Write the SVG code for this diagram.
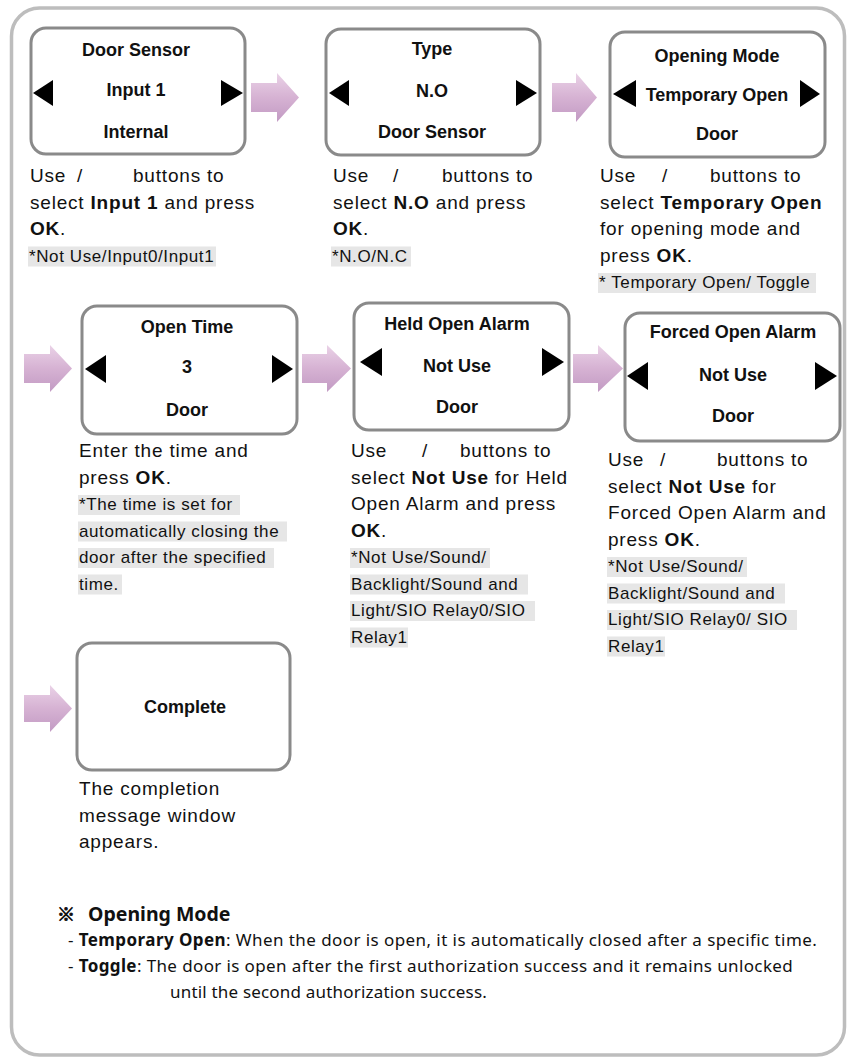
<svg xmlns="http://www.w3.org/2000/svg" width="847" height="1059" viewBox="0 0 847 1059">
<defs>
<linearGradient id="ag" x1="0" y1="0" x2="0" y2="1">
<stop offset="0" stop-color="#ead2e7"/>
<stop offset="0.5" stop-color="#d6b2d3"/>
<stop offset="1" stop-color="#c29ac3"/>
</linearGradient>
<style>
.frame{fill:#fff;stroke:#bdbdbd;stroke-width:3.5}
.box{fill:#fff;stroke:#8a8a8a;stroke-width:3}
.bt{font-family:"Liberation Sans",Arial,sans-serif;font-weight:bold;font-size:18px;text-anchor:middle;fill:#111}
.tri{fill:#000}
.arr{fill:url(#ag)}
.d{font-family:"Liberation Sans",Arial,sans-serif;font-size:19px;letter-spacing:0.8px;fill:#111}
.n{font-family:"Liberation Sans",Arial,sans-serif;font-size:17px;letter-spacing:0.6px;fill:#111}
.hl{fill:#e6e6e6}
.b{font-weight:bold}
.f{font-family:"Noto Sans","Liberation Sans","Noto Sans CJK KR",sans-serif;font-size:17px;letter-spacing:0.2px;fill:#111}
.fh{font-family:"Noto Sans","Noto Sans CJK KR",sans-serif;font-size:19.5px;font-weight:bold;fill:#111}
.fs{font-family:"Noto Sans CJK KR","Noto Sans",sans-serif;font-size:18px;font-weight:bold;fill:#111;stroke:#111;stroke-width:0.8}
</style>
</defs>
<rect class="frame" x="11.5" y="8" width="833" height="1047" rx="28"/>

<g id="connectors">
<path class="arr" d="M251,83 H277 V73 L299,97.5 L277,122 V112 H251 Z"/>
<path class="arr" d="M552,83 H576 V73 L597,97.5 L576,122 V112 H552 Z"/>
<path class="arr" d="M24,354 H50 V345 L72,368.5 L50,392 V383 H24 Z"/>
<path class="arr" d="M302,354 H327 V345 L351,368.5 L327,392 V383 H302 Z"/>
<path class="arr" d="M573,354 H598 V345 L623,368.5 L598,392 V383 H573 Z"/>
<path class="arr" d="M24,695 H50 V685 L72,708.5 L50,732 V722 H24 Z"/>
</g>

<g id="node-door-sensor">
<rect class="box" x="31" y="28" width="214" height="126" rx="15"/>
<text class="bt" x="136" y="56">Door Sensor</text>
<text class="bt" x="136" y="96">Input 1</text>
<text class="bt" x="136" y="138">Internal</text>
<polygon class="tri" points="33,93 53,80 53,106"/>
<polygon class="tri" points="243,93 221,80 221,106"/>
<text class="d" x="30" y="182">Use</text>
<text class="d" x="77" y="182">/</text>
<text class="d" x="133" y="182">buttons to</text>
<text class="d" x="30" y="208.5">select <tspan class="b">Input 1</tspan> and press</text>
<text class="d" x="30" y="235"><tspan class="b">OK</tspan>.</text>
<rect class="hl" x="28" y="246.5" width="188" height="20"/>
<text class="n" x="29" y="261.5">*Not Use/Input0/Input1</text>
</g>

<g id="node-type">
<rect class="box" x="326" y="29" width="214" height="126" rx="15"/>
<text class="bt" x="432" y="55">Type</text>
<text class="bt" x="432" y="97">N.O</text>
<text class="bt" x="432" y="138">Door Sensor</text>
<polygon class="tri" points="329,93 349,80 349,106"/>
<polygon class="tri" points="537,93 516,80 516,106"/>
<text class="d" x="333" y="182">Use</text>
<text class="d" x="393" y="182">/</text>
<text class="d" x="442" y="182">buttons to</text>
<text class="d" x="333" y="208.5">select <tspan class="b">N.O</tspan> and press</text>
<text class="d" x="333" y="235"><tspan class="b">OK</tspan>.</text>
<rect class="hl" x="331" y="246.5" width="80" height="20"/>
<text class="n" x="332" y="261.5">*N.O/N.C</text>
</g>

<g id="node-opening-mode">
<rect class="box" x="610" y="32" width="215" height="125" rx="15"/>
<text class="bt" x="717" y="62">Opening Mode</text>
<text class="bt" x="717" y="101">Temporary Open</text>
<text class="bt" x="717" y="140">Door</text>
<polygon class="tri" points="613,94 636,80 636,107"/>
<polygon class="tri" points="820,94 800,80 800,107"/>
<text class="d" x="600" y="182">Use</text>
<text class="d" x="662" y="182">/</text>
<text class="d" x="710" y="182">buttons to</text>
<text class="d" x="600" y="208.5">select <tspan class="b">Temporary Open</tspan></text>
<text class="d" x="600" y="235">for opening mode and</text>
<text class="d" x="600" y="261.5">press <tspan class="b">OK</tspan>.</text>
<rect class="hl" x="598" y="273" width="218" height="20"/>
<text class="n" x="599" y="288">* Temporary Open/ Toggle</text>
</g>

<g id="node-open-time">
<rect class="box" x="82" y="306" width="215" height="128" rx="15"/>
<text class="bt" x="187" y="333">Open Time</text>
<text class="bt" x="187" y="373">3</text>
<text class="bt" x="187" y="416">Door</text>
<polygon class="tri" points="85,369 106,355 106,383"/>
<polygon class="tri" points="293,369 272,355 272,383"/>
<text class="d" x="79" y="457">Enter the time and</text>
<text class="d" x="79" y="483.5">press <tspan class="b">OK</tspan>.</text>
<rect class="hl" x="78" y="495" width="162" height="20"/>
<text class="n" x="79" y="510">*The time is set for</text>
<rect class="hl" x="78" y="521.5" width="209" height="20"/>
<text class="n" x="79" y="536.5">automatically closing the</text>
<rect class="hl" x="78" y="548" width="196" height="20"/>
<text class="n" x="79" y="563">door after the specified</text>
<rect class="hl" x="78" y="574.5" width="44" height="20"/>
<text class="n" x="79" y="589.5">time.</text>
</g>

<g id="node-held-open-alarm">
<rect class="box" x="354" y="303" width="215" height="127" rx="15"/>
<text class="bt" x="457" y="330">Held Open Alarm</text>
<text class="bt" x="457" y="372">Not Use</text>
<text class="bt" x="457" y="413">Door</text>
<polygon class="tri" points="360,362 382,348 382,376"/>
<polygon class="tri" points="564,362 542,348 542,376"/>
<text class="d" x="351" y="457">Use</text>
<text class="d" x="422" y="457">/</text>
<text class="d" x="460" y="457">buttons to</text>
<text class="d" x="351" y="483.5">select <tspan class="b">Not Use</tspan> for Held</text>
<text class="d" x="351" y="510">Open Alarm and press</text>
<text class="d" x="351" y="536.5"><tspan class="b">OK</tspan>.</text>
<rect class="hl" x="350" y="548" width="140" height="20"/>
<text class="n" x="351" y="563">*Not Use/Sound/</text>
<rect class="hl" x="350" y="574.5" width="178" height="20"/>
<text class="n" x="351" y="589.5">Backlight/Sound and</text>
<rect class="hl" x="350" y="601" width="185" height="20"/>
<text class="n" x="351" y="616">Light/SIO Relay0/SIO</text>
<rect class="hl" x="350" y="627.5" width="58" height="20"/>
<text class="n" x="351" y="642.5">Relay1</text>
</g>

<g id="node-forced-open-alarm">
<rect class="box" x="625" y="313" width="215" height="128" rx="15"/>
<text class="bt" x="733" y="338">Forced Open Alarm</text>
<text class="bt" x="733" y="381">Not Use</text>
<text class="bt" x="733" y="422">Door</text>
<polygon class="tri" points="627,376 648,362 648,390"/>
<polygon class="tri" points="837,376 815,362 815,390"/>
<text class="d" x="608" y="466">Use</text>
<text class="d" x="660" y="466">/</text>
<text class="d" x="717" y="466">buttons to</text>
<text class="d" x="608" y="492.5">select <tspan class="b">Not Use</tspan> for</text>
<text class="d" x="608" y="519">Forced Open Alarm and</text>
<text class="d" x="608" y="545.5">press <tspan class="b">OK</tspan>.</text>
<rect class="hl" x="607" y="557" width="140" height="20"/>
<text class="n" x="608" y="572">*Not Use/Sound/</text>
<rect class="hl" x="607" y="583.5" width="178" height="20"/>
<text class="n" x="608" y="598.5">Backlight/Sound and</text>
<rect class="hl" x="607" y="610" width="190" height="20"/>
<text class="n" x="608" y="625">Light/SIO Relay0/ SIO</text>
<rect class="hl" x="607" y="636.5" width="58" height="20"/>
<text class="n" x="608" y="651.5">Relay1</text>
</g>

<g id="node-complete">
<rect class="box" x="77" y="643" width="213" height="127" rx="15"/>
<text class="bt" x="185" y="713">Complete</text>
<text class="d" x="79" y="795">The completion</text>
<text class="d" x="79" y="821.5">message window</text>
<text class="d" x="79" y="848">appears.</text>
</g>

<g id="opening-mode-note">
<text class="fs" x="57" y="921">※</text>
<text class="fh" x="88" y="921">Opening Mode</text>
<text class="f" x="68" y="946" textLength="749">- <tspan font-weight="bold">Temporary Open</tspan>: When the door is open, it is automatically closed after a specific time.</text>
<text class="f" x="68" y="972" textLength="725">- <tspan font-weight="bold">Toggle</tspan>: The door is open after the first authorization success and it remains unlocked</text>
<text class="f" x="170" y="998" textLength="317">until the second authorization success.</text>
</g>
</svg>
